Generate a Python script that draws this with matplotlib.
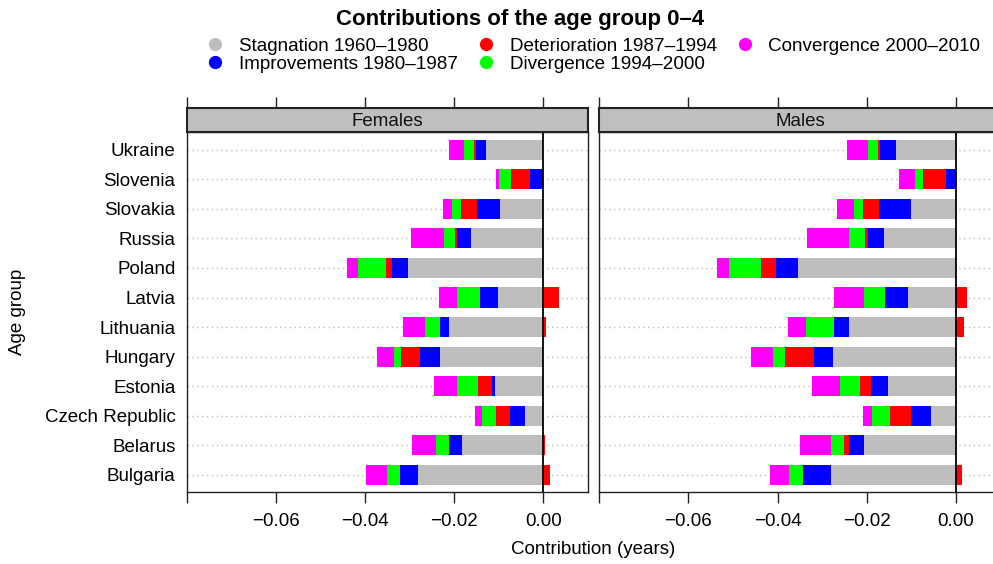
import matplotlib
matplotlib.use("Agg")
import matplotlib.pyplot as plt
from matplotlib.lines import Line2D
import numpy as np

plt.rcParams['font.family'] = ['Liberation Sans', 'DejaVu Sans']

countries = ["Ukraine", "Slovenia", "Slovakia", "Russia", "Poland", "Latvia",
             "Lithuania", "Hungary", "Estonia", "Czech Republic", "Belarus", "Bulgaria"]

series_names = ["Stagnation 1960\u20131980", "Improvements 1980\u20131987",
                "Deterioration 1987\u20131994", "Divergence 1994\u20132000",
                "Convergence 2000\u20132010"]
series_colors = ["#BEBEBE", "#0000FF", "#FF0000", "#00FF00", "#FF00FF"]

# Females
f_stag = [-0.0129, 0.0, -0.0097, -0.0162, -0.0303, -0.0102, -0.0211, -0.0232, -0.0108, -0.0041, -0.0182, -0.0281]
f_impr = [-0.0022, -0.0031, -0.0052, -0.0031, -0.0036, -0.0040, -0.0020, -0.0045, -0.0007, -0.0034, -0.0029, -0.0040]
f_det = [-0.0005, -0.0042, -0.0036, -0.0005, -0.0013, 0.0035, 0.0006, -0.0043, -0.0031, -0.0031, 0.0004, 0.0015]
f_div = [-0.0022, -0.0027, -0.0020, -0.0025, -0.0063, -0.0052, -0.0034, -0.0016, -0.0047, -0.0031, -0.0031, -0.0029]
f_conv = [-0.0034, -0.0007, -0.0020, -0.0074, -0.0025, -0.0040, -0.0049, -0.0038, -0.0052, -0.0016, -0.0052, -0.0047]

# Males
m_stag = [-0.0135, 0.0, -0.0100, -0.0162, -0.0355, -0.0108, -0.0239, -0.0275, -0.0153, -0.0057, -0.0207, -0.0281]
m_impr = [-0.0036, -0.0023, -0.0072, -0.0036, -0.0049, -0.0052, -0.0034, -0.0043, -0.0038, -0.0045, -0.0034, -0.0063]
m_det = [-0.0005, -0.0052, -0.0036, -0.0007, -0.0034, 0.0024, 0.0017, -0.0065, -0.0025, -0.0047, -0.0011, 0.0013]
m_div = [-0.0022, -0.0016, -0.0020, -0.0036, -0.0070, -0.0047, -0.0063, -0.0027, -0.0045, -0.0040, -0.0029, -0.0031]
m_conv = [-0.0047, -0.0036, -0.0040, -0.0094, -0.0029, -0.0067, -0.0040, -0.0049, -0.0061, -0.0020, -0.0070, -0.0043]

panels = [("Females", [f_stag, f_impr, f_det, f_div, f_conv]),
          ("Males", [m_stag, m_impr, m_det, m_div, m_conv])]

xticks = [-0.08, -0.06, -0.04, -0.02, 0.0]
xticklabels = ["", "\u22120.06", "\u22120.04", "\u22120.02", "0.00"]

W, H = 993, 564
fig = plt.figure(figsize=(W / 100, H / 100), dpi=100)

frame_col = "#222222"
panel_lefts = [186.7, 599.3]
pw = 401.3
p_top, p_bot = 132, 492
s_top = 108
fs = 13.5

n = len(countries)
ypos = np.arange(n, 0, -1)  # Ukraine at top

for i, ((title, data), left) in enumerate(zip(panels, panel_lefts)):
    ax = fig.add_axes([left / W, (H - p_bot) / H, pw / W, (p_bot - p_top) / H])
    for y in ypos:
        ax.plot([-0.08, 0.01], [y, y], color="#BBBBBB", lw=1.0,
                linestyle=(0, (1, 2.5)), zorder=1)
    neg = np.zeros(n)
    pos = np.zeros(n)
    for vals, col in zip(data, series_colors):
        v = np.array(vals)
        left_edge = np.where(v < 0, neg, pos)
        ax.barh(ypos, v, left=left_edge, height=0.68, color=col, linewidth=0, zorder=2)
        neg = np.where(v < 0, neg + v, neg)
        pos = np.where(v >= 0, pos + v, pos)
    ax.axvline(0, color="black", lw=1.3, zorder=3)
    ax.set_xlim(-0.08, 0.01)
    ax.set_ylim(0.42, 12.6)
    ax.set_xticks(xticks)
    ax.set_xticklabels(xticklabels, fontsize=fs)
    ax.tick_params(axis="x", direction="out", length=8, width=1, color=frame_col, pad=7)
    if i == 0:
        ax.set_yticks(ypos)
        ax.set_yticklabels(countries, fontsize=fs)
        ax.tick_params(axis="y", length=0, pad=8)
    else:
        ax.set_yticks([])
        ax.spines["right"].set_visible(False)
    for sp in ax.spines.values():
        sp.set_color(frame_col)
        sp.set_linewidth(1.0)

    sax = fig.add_axes([left / W, (H - p_top) / H, pw / W, (p_top - s_top) / H])
    sax.set_facecolor("#BFBFBF")
    sax.set_xlim(-0.08, 0.01)
    sax.set_ylim(0, 1)
    sax.set_yticks([])
    sax.set_xticks(xticks)
    sax.xaxis.set_ticks_position("top")
    sax.tick_params(axis="x", direction="out", length=8, width=1, color=frame_col,
                    labeltop=False, labelbottom=False)
    for sp in sax.spines.values():
        sp.set_color(frame_col)
        sp.set_linewidth(1.5)
    if i == 1:
        sax.spines["right"].set_visible(False)
    sax.text(0.5, 0.45, title, transform=sax.transAxes, ha="center", va="center",
             fontsize=fs, color="#111111")

fig.text(520 / W, 1 - 19 / H, "Contributions of the age group 0\u20134", ha="center",
         va="center", fontsize=16, fontweight="bold")

handles = [Line2D([], [], marker="o", linestyle="none", markersize=8.5,
                  markerfacecolor=c, markeredgecolor=c) for c in series_colors]
fig.legend(handles, series_names, loc="center", bbox_to_anchor=(593 / W, 1 - 55 / H),
           ncol=3, frameon=False, fontsize=13.6, handletextpad=0.75, columnspacing=1.0,
           labelspacing=0.05, handlelength=1.0, borderpad=0)

fig.text(593 / W, 1 - 550 / H, "Contribution (years)", ha="center", va="center", fontsize=fs)
fig.text(18 / W, 1 - 312 / H, "Age group", ha="center", va="center", rotation=90, fontsize=fs)

fig.savefig("out.png", dpi=100)
